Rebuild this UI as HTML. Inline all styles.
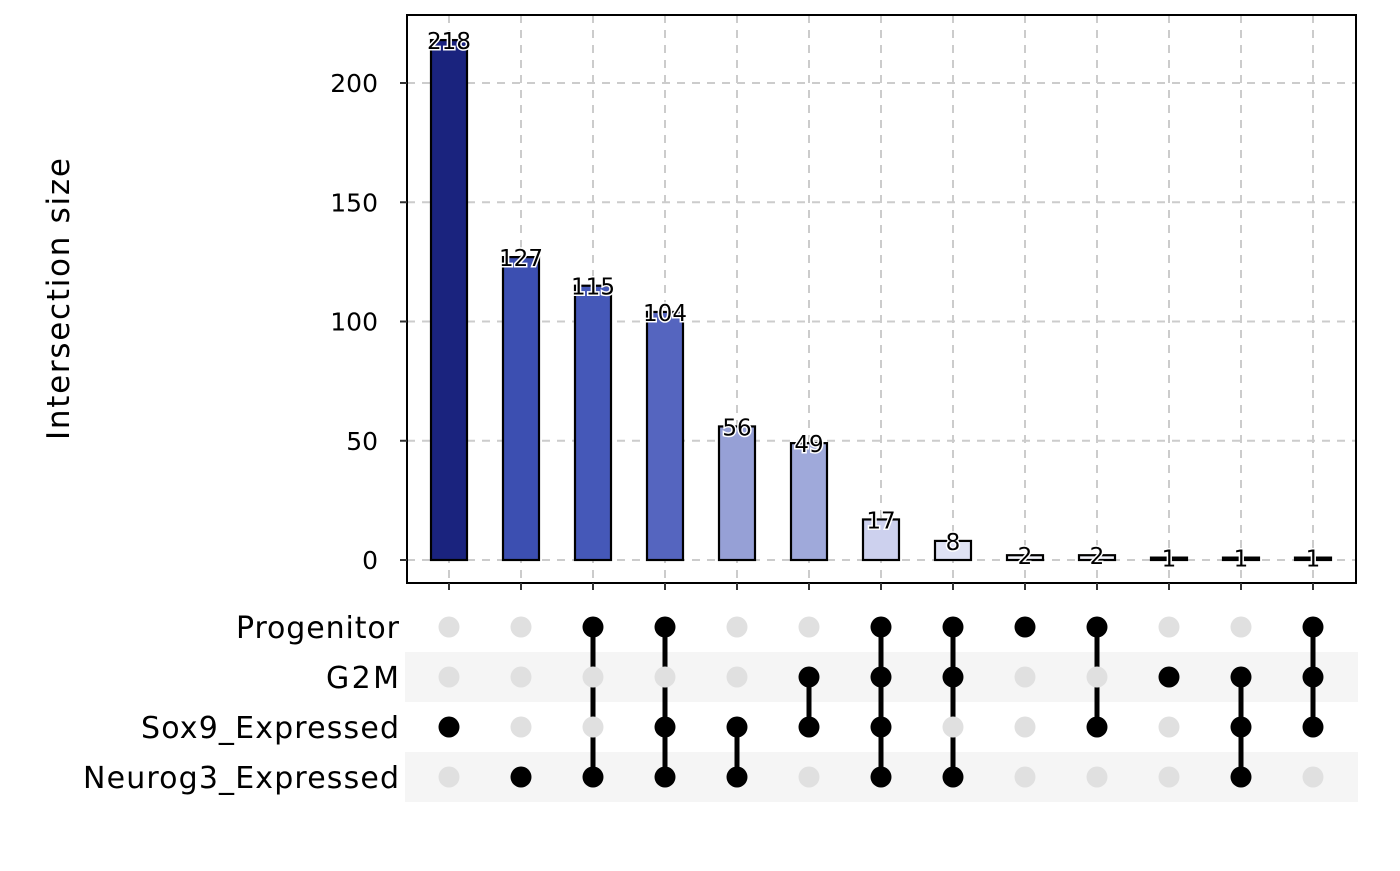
<!DOCTYPE html>
<html><head><meta charset="utf-8"><style>
body{margin:0;background:#fff}
svg{font-family:"DejaVu Sans","Liberation Sans",sans-serif}
</style></head><body>
<svg id="c" width="1400" height="866" xmlns="http://www.w3.org/2000/svg"></svg>
<script>
const categories=["Sox9","Neurog3","P+G2M+S+N... ","P+S+N","S+N","G2M+S","all","P+G2M+N","P","P+S","G2M","G2M+S+N","P+G2M+S"];
const values=[218,127,115,104,56,49,17,8,2,2,1,1,1];
const colors=["#1a237e","#3c4fb1","#4558b8","#5565bf","#96a0d6","#9fa9da","#cdd1ee","#dfe2f4","#f3f4fb","#f3f4fb","#111111","#111111","#111111"];
const sets=["Progenitor","G2M","Sox9_Expressed","Neurog3_Expressed"];
const membership=[[2],[3],[0,3],[0,2,3],[2,3],[1,2],[0,1,2,3],[0,1,3],[0],[0,2],[1],[1,2,3],[0,1,2]];
const yTicks=[0,50,100,150,200];
const svg=document.getElementById('c');const NS="http://www.w3.org/2000/svg";
function el(t,a,p){const e=document.createElementNS(NS,t);for(const k in a)e.setAttribute(k,a[k]);(p||svg).appendChild(e);return e;}
const X0=407,X1=1356,Y0=15,Y1=583;
const y=v=>560-v*(477/200);
const x=i=>449+i*72;
const rowY=j=>627+j*50;
[1,3].forEach(j=>{const r=el('rect',{x:405,y:rowY(j)-25,width:953,height:50,fill:'#f5f5f5'});});
yTicks.forEach(t=>{const l=el('line',{x1:X0,x2:X1,y1:y(t),y2:y(t),stroke:'#cccccc','stroke-width':2,'stroke-dasharray':'8,7'});});
values.forEach((v,i)=>{const l=el('line',{x1:x(i),x2:x(i),y1:Y0,y2:Y1,stroke:'#cccccc','stroke-width':2,'stroke-dasharray':'8,7'});});
values.forEach((v,i)=>{
 const b=el('rect',{x:x(i)-18,y:y(v),width:36,height:560-y(v),fill:colors[i],stroke:'#000','stroke-width':2.2});
 
 const t=el('text',{x:x(i),y:y(v)+9,'text-anchor':'middle','font-size':23,fill:'#000',stroke:'#fff','stroke-width':3,'paint-order':'stroke'});
 t.textContent=v;
});
const f=el('rect',{x:X0,y:Y0,width:X1-X0,height:Y1-Y0,fill:'none',stroke:'#000','stroke-width':2});

yTicks.forEach(t=>{
 el('line',{x1:X0-7,x2:X0,y1:y(t),y2:y(t),stroke:'#333','stroke-width':2});
 const tx=el('text',{x:378,y:y(t)+9,'text-anchor':'end','font-size':25,fill:'#000'});
 tx.textContent=t;
});
values.forEach((v,i)=>el('line',{x1:x(i),x2:x(i),y1:Y1,y2:Y1+7,stroke:'#333','stroke-width':2}));
const yt=el('text',{x:0,y:0,'font-size':31,fill:'#000',textLength:282,lengthAdjust:'spacing',transform:'translate(69 440) rotate(-90)'});
yt.textContent='Intersection size';
const setWidths=[163,73,258,316];
sets.forEach((s,j)=>{const t=el('text',{x:399-setWidths[j],y:rowY(j)+11,'font-size':30,fill:'#000',textLength:setWidths[j],lengthAdjust:'spacing'});t.textContent=s;});
membership.forEach((m,i)=>{
 if(m.length>1){const l=el('line',{x1:x(i),x2:x(i),y1:rowY(Math.min(...m)),y2:rowY(Math.max(...m)),stroke:'#000','stroke-width':5});}
 sets.forEach((s,j)=>{const on=m.includes(j);const c=el('circle',{cx:x(i),cy:rowY(j),r:10.5,fill:on?'#000':'#e0e0e0'});});
});
</script>
</body></html>
